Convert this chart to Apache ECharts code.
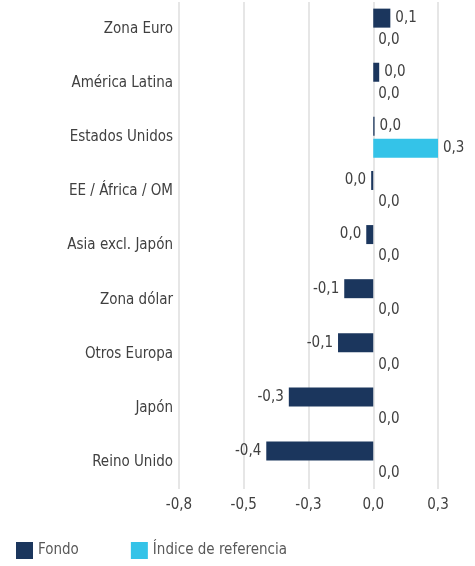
<!DOCTYPE html>
<html>
<head>
<meta charset="utf-8">
<script src="https://cdn.jsdelivr.net/npm/echarts@6/dist/echarts.min.js"></script>
<style>
  html, body { margin: 0; padding: 0; background: #fff; }
  #chart { width: 475px; height: 566px; }
</style>
</head>
<body>
<div id="chart"></div>
<script>
const categories = [
  "Zona Euro",
  "América Latina",
  "Estados Unidos",
  "EE / África / OM",
  "Asia excl. Japón",
  "Zona dólar",
  "Otros Europa",
  "Japón",
  "Reino Unido"
];
const fondo = [0.066, 0.023, 0.005, -0.008, -0.027, -0.112, -0.136, -0.326, -0.413];
const indice = [0, 0, 0.25, 0, 0, 0, 0, 0, 0];
const seriesNames = ["Fondo", "Índice de referencia"];

const FONT = "'Liberation Sans Narrow', 'DejaVu Sans Condensed', Roboto, sans-serif";

// coma decimal, sin "-0,0"
const fmt = (v) => {
  const r = Math.round(v * 10) / 10;
  if (Math.abs(r) < 0.05) return "0,0";
  return v.toFixed(1).replace(".", ",");
};

const chart = echarts.init(document.getElementById("chart"));

chart.setOption({
  backgroundColor: "#fff",
  animation: false,
  textStyle: { fontFamily: FONT },
  grid: { left: 179, right: 37, top: 2, bottom: 77 },
  legend: {
    data: seriesNames,
    left: 11,
    bottom: 2,
    icon: "rect",
    itemWidth: 17,
    itemHeight: 17,
    itemGap: 52,
    textStyle: { color: "#595959", fontSize: 15, fontFamily: FONT }
  },
  xAxis: {
    type: "value",
    min: -0.75,
    max: 0.25,
    interval: 0.25,
    axisLine: { show: false },
    axisTick: { show: false },
    splitLine: { show: true, lineStyle: { color: "#e6e6e6", width: 2 } },
    axisLabel: {
      color: "#404040",
      fontSize: 15,
      margin: 9,
      fontFamily: FONT,
      formatter: (v) => fmt(v)
    }
  },
  yAxis: {
    type: "category",
    data: categories,
    inverse: true,
    axisLine: { show: false },
    axisTick: { show: false },
    axisLabel: { color: "#404040", fontSize: 15, margin: 6, fontFamily: FONT }
  },
  series: [
    {
      name: seriesNames[0],
      type: "bar",
      barWidth: 19,
      barGap: "15%",
      itemStyle: { color: "#1b365d" },
      data: fondo.map((v) => ({
        value: v,
        label: { position: v >= 0 ? "right" : "left" }
      })),
      label: {
        show: true,
        distance: 5,
        color: "#404040",
        fontSize: 15,
        fontFamily: FONT,
        formatter: (p) => fmt(p.value)
      }
    },
    {
      name: seriesNames[1],
      type: "bar",
      barWidth: 19,
      itemStyle: { color: "#34c3e8" },
      data: indice,
      label: {
        show: true,
        position: "right",
        distance: 5,
        color: "#404040",
        fontSize: 15,
        fontFamily: FONT,
        formatter: (p) => fmt(p.value)
      }
    }
  ]
});
</script>
</body>
</html>
